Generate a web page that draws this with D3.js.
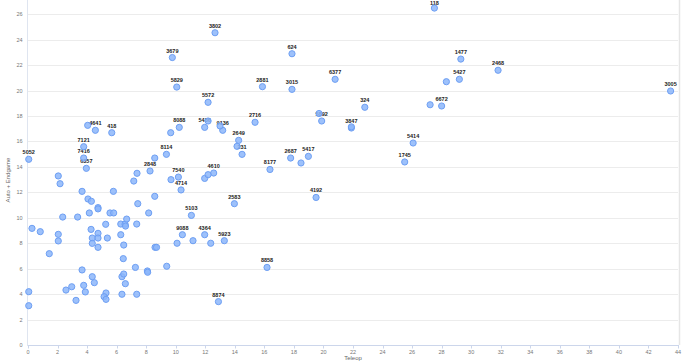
<!DOCTYPE html>
<html><head><meta charset="utf-8">
<script src="https://cdn.jsdelivr.net/npm/d3@7"></script>
<style>html,body{margin:0;padding:0;background:#fff;}svg{display:block;}</style>
</head><body><svg id="c" width="690" height="361"></svg>
<script>
const teams = ["5052","3802","3679","5829","5572","8088","5436","9136","2649","231","7121","7416","6357","4641","418","8114","2848","7540","4714","4610","5103","2583","9088","4364","5923","8874","8858","4192","8177","2687","5417","2716","2881","3015","6377","5892","624","118","1477","5427","324","6672","3847","5414","1745","2468","3005",
"","","","","","","","","","","",
"","","","","","","","","","","","","","","","","","","","","","","","","","","","","","","","","","","","","","","","","","","","","","","","","","","","","","","","","","","","","","","","","","","","",""];
const teleop = [0.05,12.66,9.77,10.07,12.19,10.24,11.96,13.18,14.26,14.49,3.77,3.77,3.95,4.56,5.67,9.37,8.26,10.18,10.36,12.57,11.06,13.97,10.45,11.96,13.29,12.89,16.18,19.5,16.38,17.78,18.98,15.37,15.87,17.87,20.79,19.88,17.87,27.51,29.3,29.2,22.8,28.0,21.89,26.07,25.5,31.82,43.5,
9.66,12.19,13.0,14.15,4.04,18.48,19.7,28.32,27.22,21.89,8.58,
2.05,2.17,7.38,9.68,11.96,12.19,7.16,3.66,5.78,8.58,4.06,4.29,7.43,4.74,4.74,2.35,3.36,4.15,5.55,5.8,8.17,0.27,0.83,2.05,2.05,4.27,5.26,6.28,6.57,6.6,6.68,7.36,4.74,4.35,4.74,5.37,4.35,6.28,6.48,4.74,8.6,8.7,10.09,11.17,12.37,1.44,6.45,3.66,7.27,9.39,8.08,8.1,4.35,6.36,6.48,4.49,6.59,3.77,2.96,2.57,3.88,0.05,5.28,5.15,5.28,6.36,7.36,3.25,0.05,0.74,7.67,4.74];
const autoEndgame = [14.6,24.55,22.6,20.28,19.08,17.11,17.11,16.88,16.09,14.99,15.59,14.7,13.89,16.88,16.69,14.99,13.68,13.2,12.19,13.52,10.19,11.11,8.67,8.67,8.2,3.41,6.1,11.6,13.8,14.7,14.83,17.51,20.31,20.1,20.89,17.61,22.9,26.49,22.48,20.89,18.69,18.79,17.06,15.88,14.39,21.6,19.97,
16.69,17.61,17.22,15.62,17.27,14.31,18.2,20.7,18.89,17.15,14.7,
13.29,12.68,13.5,13.0,13.1,13.39,12.89,12.08,12.08,11.69,11.48,11.3,11.11,10.8,10.7,10.06,10.06,10.38,10.38,10.38,10.38,9.17,8.91,8.7,8.18,9.09,9.49,9.51,9.5,9.35,9.9,9.51,8.78,8.41,8.41,8.41,7.99,8.67,7.86,7.68,7.68,7.68,8.0,8.2,8.0,7.18,6.79,5.9,6.1,6.19,5.82,5.72,5.37,5.37,5.58,4.9,4.82,4.69,4.58,4.32,4.17,4.19,4.09,3.8,3.59,3.99,3.99,3.51,3.09,3.09,2.89,1.97];
const xTicks = d3.range(0, 45, 2);
const yTicks = d3.range(0, 27, 2);
const xTitle = "Teleop";
const yTitle = "Auto + Endgame";

const svg = d3.select("#c");
const x = d3.scaleLinear().domain([0, 44]).range([28, 678]);
const y = d3.scaleLinear().domain([0, 26]).range([345, 14.3]);
const font = "'Liberation Sans', Arial, sans-serif";

svg.append("g").selectAll("line").data(yTicks.filter(d => d > 0)).join("line")
  .attr("x1", 28).attr("x2", 678)
  .attr("y1", d => Math.round(y(d)) + 0.5).attr("y2", d => Math.round(y(d)) + 0.5)
  .attr("stroke", "#ececec").attr("stroke-width", 1);

svg.append("line").attr("x1", 679.5).attr("x2", 679.5).attr("y1", 0).attr("y2", 345)
  .attr("stroke", "#e6e6e6").attr("stroke-width", 1.5);

svg.append("line").attr("x1", 27.5).attr("x2", 27.5).attr("y1", 0).attr("y2", 345.5)
  .attr("stroke", "#dfe5f0").attr("stroke-width", 1);
svg.append("line").attr("x1", 27.5).attr("x2", 679).attr("y1", 345.5).attr("y2", 345.5)
  .attr("stroke", "#ccd6eb").attr("stroke-width", 1);

const xg = svg.append("g");
xg.selectAll("line").data(xTicks).join("line")
  .attr("x1", d => Math.round(x(d)) + 0.5).attr("x2", d => Math.round(x(d)) + 0.5)
  .attr("y1", 345).attr("y2", 348.5).attr("stroke", "#ccd6eb");
xg.selectAll("text").data(xTicks).join("text")
  .attr("x", d => x(d)).attr("y", 353.5)
  .attr("text-anchor", "middle").attr("font-family", font).attr("font-size", 5.5)
  .attr("fill", "#777").text(d => d);

svg.append("g").selectAll("text").data(yTicks).join("text")
  .attr("x", 22.5).attr("y", d => y(d) + 2)
  .attr("text-anchor", "end").attr("font-family", font).attr("font-size", 5.5)
  .attr("fill", "#777").text(d => d);

svg.append("text").attr("x", 353).attr("y", 359.5).attr("text-anchor", "middle")
  .attr("font-family", font).attr("font-size", 6).attr("fill", "#666").text(xTitle);
svg.append("text").attr("transform", "translate(10,180) rotate(-90)").attr("text-anchor", "middle")
  .attr("font-family", font).attr("font-size", 6).attr("fill", "#666").text(yTitle);

const pts = teams.map((t, i) => ({t, x: teleop[i], y: autoEndgame[i]}));

svg.append("g").selectAll("text").data(pts.filter(d => d.t)).join("text")
  .attr("x", d => x(d.x)).attr("y", d => Math.max(4.6, y(d.y) - 5))
  .attr("text-anchor", "middle").attr("font-family", font).attr("font-size", 5.5)
  .attr("font-weight", "bold").attr("fill", "#222")
  .attr("stroke", "#fff").attr("stroke-width", 1).attr("paint-order", "stroke")
  .text(d => d.t);

svg.append("g").selectAll("circle").data(pts).join("circle")
  .attr("cx", d => x(d.x)).attr("cy", d => y(d.y)).attr("r", 3.1)
  .attr("fill", "rgba(140,182,250,0.85)").attr("stroke", "#6e9ff3").attr("stroke-width", 1);
</script></body></html>
